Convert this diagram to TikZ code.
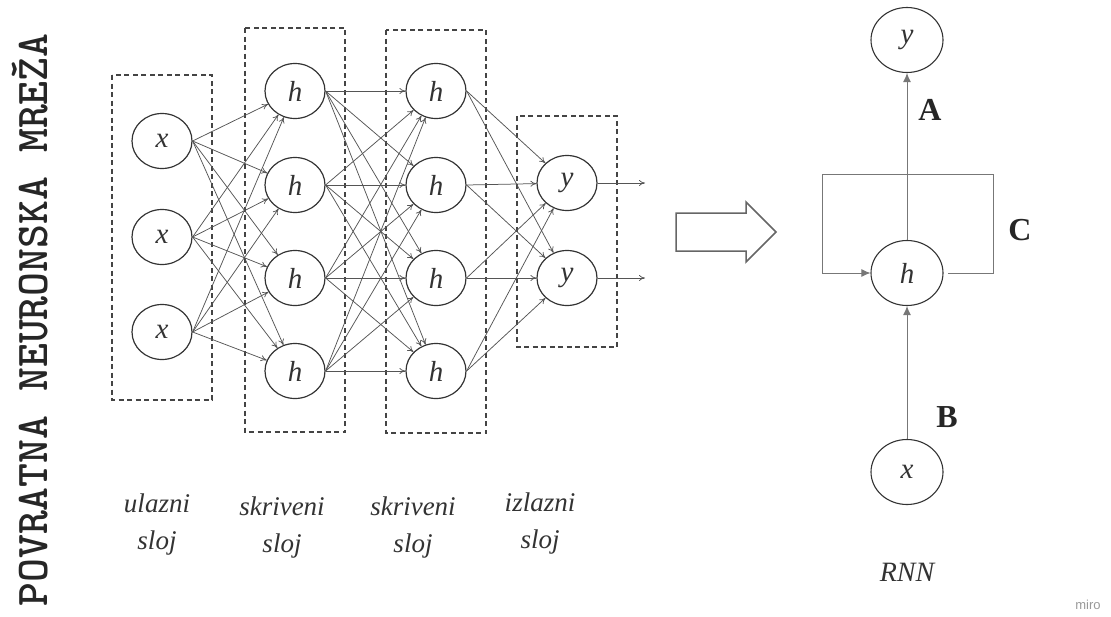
\documentclass[tikz,border=0pt]{standalone}
\usepackage{fontspec}
\setmainfont{Liberation Serif}
\newfontfamily\mirofont{Liberation Sans}
\usetikzlibrary{shapes.geometric,arrows.meta}
\definecolor{circ}{HTML}{333333}
\definecolor{edge}{HTML}{555555}
\definecolor{boxc}{HTML}{444444}
\definecolor{rnnl}{HTML}{777777}
\tikzset{
  neuron/.style={ellipse,draw=circ,line width=1.2pt,fill=white,minimum width=60pt,minimum height=55pt,inner sep=0pt,
    font=\fontsize{29}{29}\selectfont\itshape,text=circ},
  bigneuron/.style={neuron,minimum width=72pt,minimum height=65pt,line width=1.1pt},
  layerbox/.style={draw=boxc,line width=1.1pt,dash pattern=on 5pt off 3.5pt},
  conn/.style={draw=edge,line width=0.75pt,-{To[length=6pt,width=6pt]}},
  rnnarrow/.style={draw=rnnl,line width=1pt,-{Latex[length=9pt,width=8pt]},color=rnnl},
  rnnline/.style={draw=rnnl,line width=1pt},
  laylabel/.style={align=center,font=\fontsize{27}{37}\selectfont\itshape,text=black!80},
  boldlabel/.style={font=\fontsize{32}{32}\selectfont\bfseries,text=black!85},
}
\begin{document}
\begin{tikzpicture}[x=1pt,y=-1pt]
\useasboundingbox (0,0) rectangle (1111,616);
% title
\node[rotate=90,text=black!85,inner sep=0pt] (title) at (30,320) {\ttfamily\bfseries\fontsize{45.5}{45.5}\selectfont POVRATNA NEURONSKA MREŽA};
% layer boxes
\draw[layerbox] (112,75) rectangle (212,400);
\draw[layerbox] (245,28) rectangle (345,432);
\draw[layerbox] (386,30) rectangle (486,433);
\draw[layerbox] (517,116) rectangle (617,347);
% nodes
\node[neuron] (x1) at (162,141) {x};
\node[neuron] (x2) at (162,237) {x};
\node[neuron] (x3) at (162,332) {x};
\foreach \i/\yy in {1/91,2/185,3/278,4/371}{
  \node[neuron] (ha\i) at (295,\yy) {h};
  \node[neuron] (hb\i) at (436,\yy) {h};
}
\node[neuron] (y1) at (567,183) {y};
\node[neuron] (y2) at (567,278) {y};
\coordinate (o1) at (645,183);
\coordinate (o2) at (645,278);
% connections
\foreach \i in {1,2,3}{
  \foreach \j in {1,2,3,4}{
    \draw[conn] (x\i.east) -- (ha\j);
  }
}
\foreach \i in {1,2,3,4}{
  \foreach \j in {1,2,3,4}{
    \draw[conn] (ha\i.east) -- (hb\j);
  }
  \foreach \j in {1,2}{
    \draw[conn] (hb\i.east) -- (y\j);
  }
}
\draw[conn] (y1.east) -- (o1);
\draw[conn] (y2.east) -- (o2);
% big arrow
\draw[draw=black!60,line width=1.5pt,fill=white] (676,213) -- (746,213) -- (746,202) -- (776,232) -- (746,262) -- (746,251) -- (676,251) -- cycle;
% RNN
\node[bigneuron] (ry) at (907,40) {y};
\node[bigneuron] (rh) at (907,273) {h};
\node[bigneuron] (rx) at (907,472) {x};
\coordinate (cr0) at (948,273);
\coordinate (cr1) at (993,273);
\coordinate (cr2) at (993,174);
\coordinate (cl2) at (822,174);
\coordinate (cl1) at (822,273);
\draw[rnnline] (cr0) -- (cr1) -- (cr2) -- (cl2) -- (cl1);
\draw[rnnarrow] (cl1) -- (rh.west);
\draw[rnnarrow] (rh.north) -- (ry.south);
\draw[rnnarrow] (rx.north) -- (rh.south);
\node[boldlabel] (lA) at (930,110) {A};
\node[boldlabel] (lB) at (947,417) {B};
\node[boldlabel] (lC) at (1020,230) {C};
\node[font=\fontsize{28}{28}\selectfont\itshape,text=black!80] (rnn) at (907,572) {RNN};
% layer labels
\node[laylabel] (l1) at (157,524) {ulazni\\sloj};
\node[laylabel] (l2) at (282,527) {skriveni\\sloj};
\node[laylabel] (l3) at (413,527) {skriveni\\sloj};
\node[laylabel] (l4) at (540,523) {izlazni\\sloj};
\node[font=\mirofont\fontsize{13}{13}\selectfont,text=black!40] (miro) at (1088,605) {miro};
\end{tikzpicture}
\end{document}
